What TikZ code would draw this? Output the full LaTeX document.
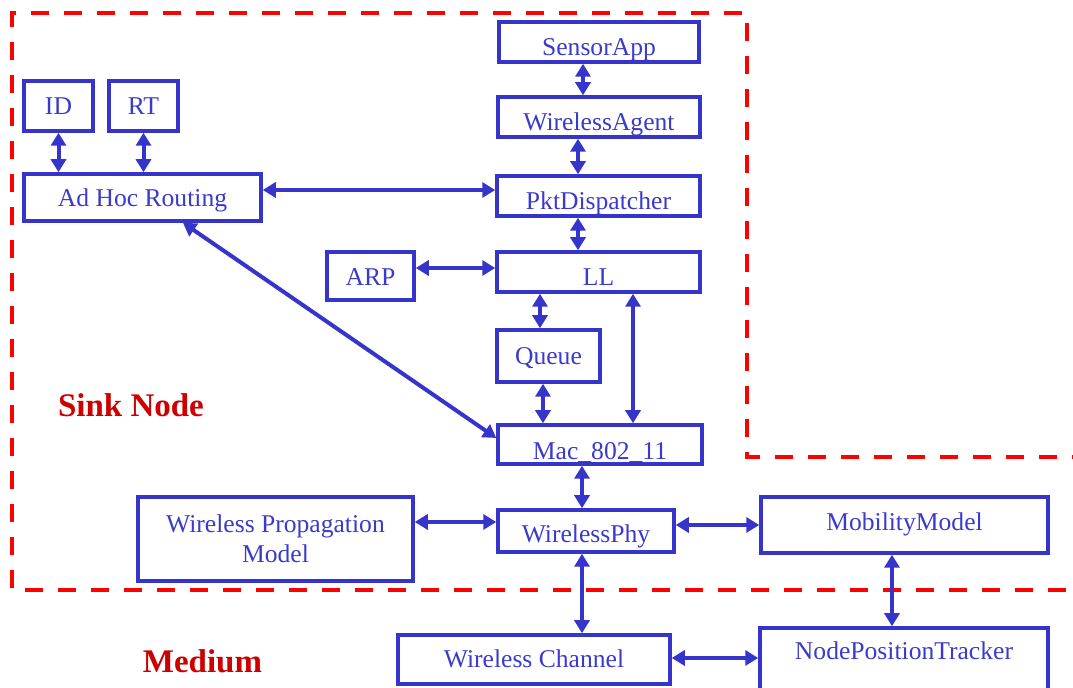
\documentclass[tikz,border=0pt]{standalone}
\usepackage{fontspec}
\setmainfont{Liberation Serif}
\usetikzlibrary{arrows.meta}
\definecolor{bblue}{RGB}{53,53,204}
\definecolor{tblue}{RGB}{58,58,204}
\definecolor{dred}{RGB}{204,0,0}
\definecolor{bred}{RGB}{255,0,0}
\begin{document}
\begin{tikzpicture}[x=0.5pt,y=-0.5pt,
  box/.style={draw=bblue, line width=1.75pt, text=tblue, font=\fontsize{12.8}{15}\selectfont, inner sep=0pt},
  txd/.style={text height=15pt, text depth=#1},
  arr/.style={draw=bblue, line width=2pt, {Triangle[length=6.5pt,width=7.5pt]}-{Triangle[length=6.5pt,width=7.5pt]}},
  lbl/.style={text=dred, font=\fontsize{16.5}{19}\selectfont\bfseries, anchor=base, inner sep=0pt},
  border/.style={draw=bred, line width=2pt, dash pattern=on 9pt off 7.5pt}]
\useasboundingbox (0,0) rectangle (1073,688);
\clip (0,0) rectangle (1073,688);

% sink node boundary
\draw[border] (1090,457) -- (747,457) -- (747,13) -- (12,13) -- (12,590) -- (1090,590);

% boxes
\node[box,txd=1.5pt,minimum width=100pt,minimum height=20pt] (sa) at (599,42) {SensorApp};
\node[box,txd=1.5pt,minimum width=101pt,minimum height=20pt] (wa) at (599,117) {WirelessAgent};
\node[box,txd=1pt,minimum width=101.5pt,minimum height=20pt] (pd) at (598.5,196) {PktDispatcher};
\node[box,txd=1pt,minimum width=101.5pt,minimum height=20pt] (ll) at (598.5,272) {LL};
\node[box,txd=6pt,minimum width=51.5pt,minimum height=26pt] (q) at (548.5,356) {Queue};
\node[box,txd=0pt,minimum width=102pt,minimum height=19.5pt] (mac) at (600,444.5) {Mac\_802\_11};
\node[box,txd=5pt,minimum width=43.5pt,minimum height=24pt] (arp) at (370.5,276) {ARP};
\node[box,txd=6pt,minimum width=34.5pt,minimum height=25pt] (id) at (58.5,106) {ID};
\node[box,txd=6pt,minimum width=34.5pt,minimum height=25pt] (rt) at (143.5,106) {RT};
\node[box,txd=5.5pt,minimum width=118.5pt,minimum height=23.5pt] (ah) at (142.5,197.5) {Ad Hoc Routing};
\node[box,align=center,minimum width=137.5pt,minimum height=42pt] (wpm) at (275.5,539) {Wireless Propagation\\Model};
\node[box,txd=3pt,minimum width=88pt,minimum height=21pt] (phy) at (586,531) {WirelessPhy};
\node[box,txd=9pt,minimum width=143.5pt,minimum height=28pt] (mob) at (904.5,525) {MobilityModel};
\node[box,txd=6.5pt,minimum width=136pt,minimum height=24.5pt] (wc) at (534,659.5) {Wireless Channel};
\node[box,txd=29pt,minimum width=144pt,minimum height=46pt] (npt) at (904,674) {NodePositionTracker};

% labels
\node[lbl] (sink) at (131,417) {Sink Node};
\node[lbl] (med) at (202.5,673) {Medium};

% connectors
\draw[arr] (sa.south -| 583,0) -- (wa.north -| 583,0);
\draw[arr] (wa.south -| 578,0) -- (pd.north -| 578,0);
\draw[arr] (pd.south -| 578,0) -- (ll.north -| 578,0);
\draw[arr] (id.south) -- (ah.north -| id.south);
\draw[arr] (rt.south) -- (ah.north -| rt.south);
\draw[arr] (ah.east |- 0,190) -- (pd.west |- 0,190);
\draw[arr] (ah.south -| 183,0) -- (mac.west |- 0,438);
\draw[arr] (arp.east |- 0,268) -- (ll.west |- 0,268);
\draw[arr] (ll.south -| 540,0) -- (q.north -| 540,0);
\draw[arr] (q.south -| 543,0) -- (mac.north -| 543,0);
\draw[arr] (ll.south -| 633,0) -- (mac.north -| 633,0);
\draw[arr] (mac.south -| 582,0) -- (phy.north -| 582,0);
\draw[arr] (wpm.east |- 0,522) -- (phy.west |- 0,522);
\draw[arr] (phy.east |- 0,525) -- (mob.west |- 0,525);
\draw[arr] (phy.south -| 582,0) -- (wc.north -| 582,0);
\draw[arr] (mob.south -| 892,0) -- (npt.north -| 892,0);
\draw[arr] (wc.east |- 0,658) -- (npt.west |- 0,658);
\end{tikzpicture}
\end{document}
